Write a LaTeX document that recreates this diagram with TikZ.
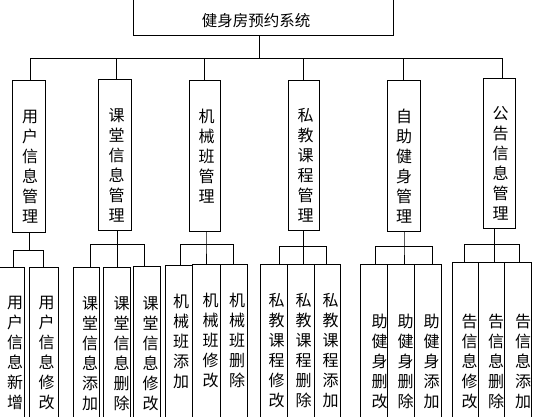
\documentclass[tikz,border=0pt]{standalone}
\usepackage{fontspec}
\newfontfamily\cjk{Noto Sans CJK SC}
\makeatletter
\newcommand\vstack[1]{\vtop{\baselineskip=20pt\lineskiplimit=-100pt\lineskip=0pt\@tfor\vch:=#1\do{\hbox to 16pt{\hss\vch\hss}}}}
\makeatother
\tikzset{
  box/.style={draw=black, line width=1pt, inner sep=0pt, rectangle},
  vt/.style={inner sep=0pt, anchor=base, yshift=-0.4pt, font={\cjk\fontsize{16pt}{20pt}\selectfont}},
  ln/.style={draw=black, line width=1pt}
}
\begin{document}
\begin{tikzpicture}[x=1pt,y=-1pt]
\useasboundingbox (0,0) rectangle (533,417);
% main box
\node[box, minimum width=260.6pt, minimum height=36.7pt] (main) at (263.6,17.35) {};
\node[inner sep=0pt, font={\cjk\fontsize{15.5pt}{18pt}\selectfont}] (title) at (256,21) {健身房预约系统};
% level 2 boxes
\node[box, minimum width=32.8pt, minimum height=151.8pt] (b1) at (28.9,156.4) {};
\node[box, minimum width=33.2pt, minimum height=150.8pt] (b2) at (114.9,154.9) {};
\node[box, minimum width=31pt, minimum height=151pt] (b3) at (204.9,155.8) {};
\node[box, minimum width=31.2pt, minimum height=150pt] (b4) at (303.9,155.3) {};
\node[box, minimum width=32.8pt, minimum height=151pt] (b5) at (404.1,155.8) {};
\node[box, minimum width=32.3pt, minimum height=150pt] (b6) at (499.65,153.3) {};
\node[vt] (t1) at (30,121.7) {\vstack{用户信息管理}};
\node[vt] (t2) at (116.7,120.7) {\vstack{课堂信息管理}};
\node[vt] (t3) at (206.7,122.4) {\vstack{机械班管理}};
\node[vt] (t4) at (305.5,120.7) {\vstack{私教课程管理}};
\node[vt] (t5) at (404,121.7) {\vstack{自助健身管理}};
\node[vt] (t6) at (500.5,119) {\vstack{公告信息管理}};
% level 1 connectors
\coordinate (bus0) at (259.5,58.5);
\coordinate (busL) at (30.6,58.5);
\coordinate (busR) at (502.7,58.5);
\draw[ln] (main.south -| bus0) -- (bus0);
\draw[ln] (busL) -- (busR);
\draw[ln] (busL) -- (busL |- b1.north);
\draw[ln] (116.7,58.5) coordinate (d2) -- (d2 |- b2.north);
\draw[ln] (204.4,58.5) coordinate (d3) -- (d3 |- b3.north);
\draw[ln] (303.4,58.5) coordinate (d4) -- (d4 |- b4.north);
\draw[ln] (403.7,58.5) coordinate (d5) -- (d5 |- b5.north);
\draw[ln] (busR) -- (busR |- b6.north);
% level 3 boxes
\node[box, minimum width=26.3pt, minimum height=172.7pt] (c11) at (11.15,353.65) {};
\node[box, minimum width=29.4pt, minimum height=172.7pt] (c12) at (44,353.65) {};
\node[box, minimum width=26pt, minimum height=172.7pt] (c21) at (86.3,353.65) {};
\node[box, minimum width=27.4pt, minimum height=172.7pt] (c22) at (117,353.65) {};
\node[box, minimum width=27.4pt, minimum height=173.7pt] (c23) at (147,353.15) {};
\node[box, minimum width=27pt, minimum height=174.7pt] (c31) at (179.2,352.65) {};
\node[box, minimum width=28pt, minimum height=176pt] (c32) at (206.7,352) {};
\node[box, minimum width=26.6pt, minimum height=176pt] (c33) at (234,352) {};
\node[box, minimum width=26.8pt, minimum height=176pt] (c41) at (273.9,352) {};
\node[box, minimum width=27pt, minimum height=176pt] (c42) at (300.8,352) {};
\node[box, minimum width=26.4pt, minimum height=176pt] (c43) at (327.5,352) {};
\node[box, minimum width=27pt, minimum height=176pt] (c51) at (374.2,352) {};
\node[box, minimum width=26.3pt, minimum height=176pt] (c52) at (400.85,352) {};
\node[box, minimum width=27.3pt, minimum height=176pt] (c53) at (427.65,352) {};
\node[box, minimum width=26.4pt, minimum height=178pt] (c61) at (465.5,351) {};
\node[box, minimum width=26pt, minimum height=178pt] (c62) at (491.7,351) {};
\node[box, minimum width=26.6pt, minimum height=178pt] (c63) at (518,351) {};
% level 3 texts
\node[vt] (s11) at (15,307.7) {\vstack{用户信息新增}};
\node[vt] (s12) at (46.7,307.7) {\vstack{用户信息修改}};
\node[vt] (s21) at (90,308.7) {\vstack{课堂信息添加}};
\node[vt] (s22) at (121.7,308.7) {\vstack{课堂信息删除}};
\node[vt] (s23) at (150.5,308.7) {\vstack{课堂信息修改}};
\node[vt] (s31) at (181,307.4) {\vstack{机械班添加}};
\node[vt] (s32) at (210.5,305.7) {\vstack{机械班修改}};
\node[vt] (s33) at (237,305.7) {\vstack{机械班删除}};
\node[vt] (s41) at (276.5,305.7) {\vstack{私教课程修改}};
\node[vt] (s42) at (303.5,305.7) {\vstack{私教课程删除}};
\node[vt] (s43) at (330.5,305.7) {\vstack{私教课程添加}};
\node[vt] (s51) at (379.5,327.4) {\vstack{助健身删改}};
\node[vt] (s52) at (405.5,327.4) {\vstack{助健身删除}};
\node[vt] (s53) at (431.5,327.4) {\vstack{助健身添加}};
\node[vt] (s61) at (469.7,327.4) {\vstack{告信息修改}};
\node[vt] (s62) at (496,327.4) {\vstack{告信息删除}};
\node[vt] (s63) at (523,327.4) {\vstack{告信息添加}};
% group 1 connectors
\coordinate (g1m) at (29.3,250.3);
\coordinate (g1l) at (13.3,250.3);
\coordinate (g1r) at (43.3,250.3);
\draw[ln] (b1.south -| g1m) -- (g1m);
\draw[ln] (g1l) -- (g1r);
\draw[ln] (g1l) -- (g1l |- c11.north);
\draw[ln] (g1r) -- (g1r |- c12.north);
% group 2
\coordinate (g2m) at (117.3,244.3);
\coordinate (g2l) at (90.7,244.3);
\coordinate (g2r) at (144.3,244.3);
\draw[ln] (b2.south -| g2m) -- (g2m) -- (g2m |- c22.north);
\draw[ln] (g2l) -- (g2r);
\draw[ln] (g2l) -- (g2l |- c21.north);
\draw[ln] (g2r) -- (g2r |- c23.north);
% group 3
\coordinate (g3m) at (206,244);
\coordinate (g3l) at (180.7,244);
\coordinate (g3r) at (233.3,244);
\draw[ln] (b3.south -| g3m) -- (g3m) -- (g3m |- c32.north);
\draw[ln] (g3l) -- (g3r);
\draw[ln] (g3l) -- (g3l |- c31.north);
\draw[ln] (g3r) -- (g3r |- c33.north);
% group 4
\coordinate (g4m) at (303.3,246.3);
\coordinate (g4l) at (279.3,246.3);
\coordinate (g4r) at (326.7,246.3);
\draw[ln] (b4.south -| g4m) -- (g4m) -- (g4m |- c42.north);
\draw[ln] (g4l) -- (g4r);
\draw[ln] (g4l) -- (g4l |- c41.north);
\draw[ln] (g4r) -- (g4r |- c43.north);
% group 5
\coordinate (g5m) at (404,246.3);
\coordinate (g5l) at (375.7,246.3);
\coordinate (g5r) at (432.3,246.3);
\draw[ln] (b5.south -| g5m) -- (g5m) -- (g5m |- c52.north);
\draw[ln] (g5l) -- (g5r);
\draw[ln] (g5l) -- (g5l |- c51.north);
\draw[ln] (g5r) -- (g5r |- c53.north);
% group 6
\coordinate (g6m) at (494.7,244);
\coordinate (g6l) at (464,244);
\coordinate (g6r) at (519.7,244);
\draw[ln] (b6.south -| g6m) -- (g6m) -- (g6m |- c62.north);
\draw[ln] (g6l) -- (g6r);
\draw[ln] (g6l) -- (g6l |- c61.north);
\draw[ln] (g6r) -- (g6r |- c63.north);
\end{tikzpicture}
\end{document}
